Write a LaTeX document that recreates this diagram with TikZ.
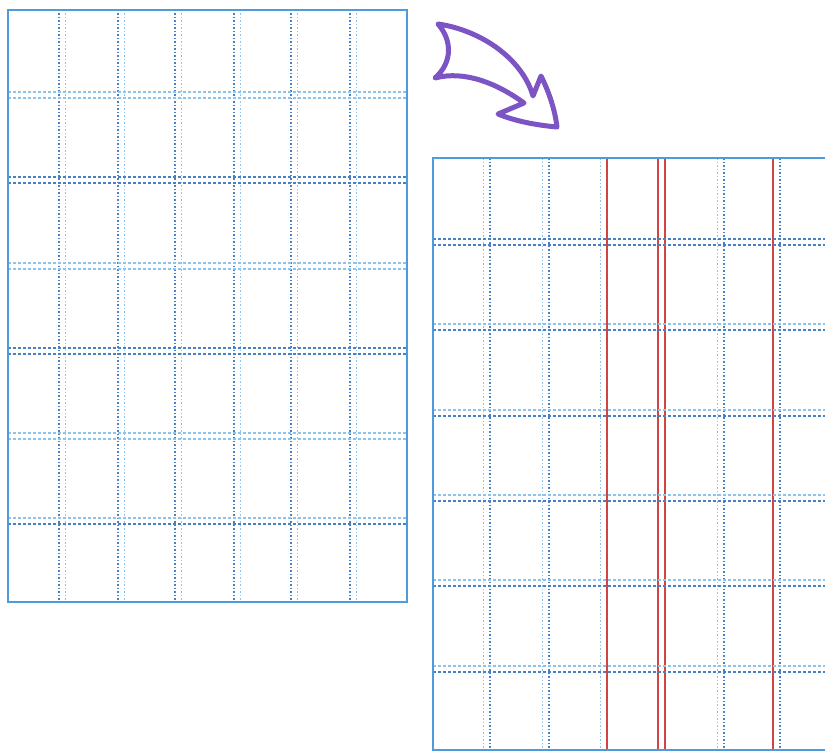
\documentclass[tikz,border=0pt]{standalone}
\usepackage{tikz}
\definecolor{pageblue}{RGB}{78,156,222}
\definecolor{darkdash}{RGB}{72,128,198}
\definecolor{lightdash}{RGB}{140,196,238}
\definecolor{marginred}{RGB}{208,68,68}
\definecolor{arrowpurple}{RGB}{124,84,196}
\tikzset{
  border/.style={draw=pageblue,line width=1.6pt},
  vdark/.style={darkdash,line width=1.2pt,dash pattern=on 1.5pt off 2pt},
  vlight/.style={lightdash,line width=1pt,dash pattern=on 1.5pt off 2pt},
  hdark/.style={darkdash,line width=1.2pt,dash pattern=on 3pt off 2pt},
  hlight/.style={lightdash,line width=1.1pt,dash pattern=on 3pt off 2pt},
  redline/.style={marginred,line width=1.2pt},
  bigarrow/.style={draw=arrowpurple,line width=5pt,line join=round,line cap=round}
}
\begin{document}
\begin{tikzpicture}[x=1pt,y=-1pt]
  \useasboundingbox (0,0) rectangle (825,752);
  \clip (0,0) rectangle (825,752);
  % original page
  \begin{scope}[shift={(8,10)}]
    \coordinate (pa) at (0,0);
    \coordinate (pb) at (399,592);
    \foreach \x in {51,110,167,226,283,342} {
      \draw[vdark] (\x,0) -- (\x,592);
      \draw[vlight] (\x+6,0) -- (\x+6,592);
    }
    \foreach \y/\sa/\sb in {85/hlight/hlight,170/hdark/hdark,256/hlight/hlight,
        341/hdark/hdark,426/hlight/hlight,511/hlight/hdark} {
      \draw[\sa] (0,\y-3) -- (399,\y-3);
      \draw[\sb] (0,\y+3) -- (399,\y+3);
    }
    \draw[border] (pa) rectangle (pb);
  \end{scope}
  % page with margins
  \begin{scope}[shift={(433,158)}]
    \coordinate (qa) at (0,0);
    \coordinate (qb) at (399,592);
    \foreach \x/\sa/\sb in {50/vlight/vdark,109/vlight/vdark,167/vlight/redline,
        225/redline/redline,284/vlight/vdark,340/redline/vdark} {
      \draw[\sa] (\x,0) -- (\x,592);
      \draw[\sb] (\x+7,0) -- (\x+7,592);
    }
    \foreach \y/\sa/\sb in {84/hdark/hdark,169/hlight/hdark,255/hlight/hdark,
        340/hlight/hdark,425/hlight/hdark,511/hlight/hdark} {
      \draw[\sa] (0,\y-3) -- (399,\y-3);
      \draw[\sb] (0,\y+3) -- (399,\y+3);
    }
    \draw[border] (qa) rectangle (qb);
  \end{scope}
  % arrow
  \draw[bigarrow] (438,24) .. controls (480,30) and (522,58) .. (533,96)
    -- (541,76) .. controls (549,92) and (555,110) .. (557,127)
    .. controls (535,125) and (515,121) .. (498,114)
    -- (524,103) .. controls (498,84) and (465,70) .. (435,78)
    .. controls (453,62) and (452,40) .. cycle;
\end{tikzpicture}
\end{document}
